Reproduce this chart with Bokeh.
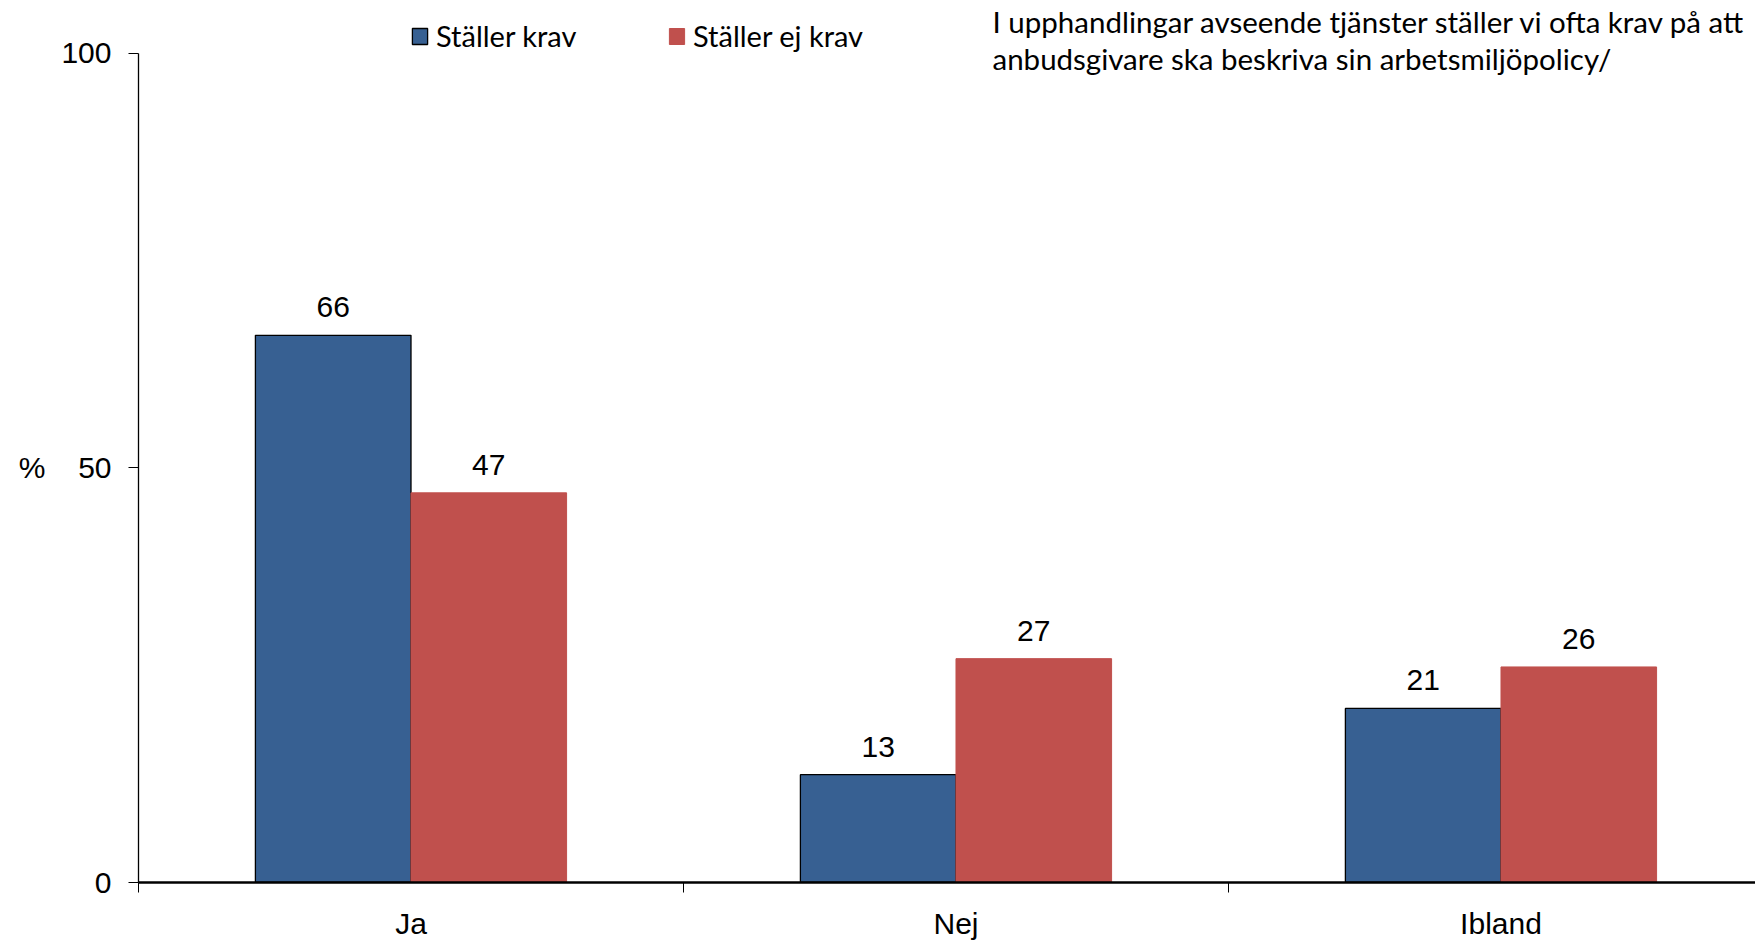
from bokeh.plotting import figure
from bokeh.models import (Range1d, FixedTicker, ColumnDataSource, LabelSet, Label, Legend,
                          LegendItem, LinearAxis)
from bokeh.core.properties import value
from bokeh.embed import file_html
from bokeh.resources import INLINE

categories = ["Ja", "Nej", "Ibland"]
series_names = ["Ställer krav", "Ställer ej krav"]
staller_krav = [66, 13, 21]
staller_ej_krav = [47, 27, 26]
y_ticks = [0, 50, 100]
title_lines = ["I upphandlingar avseende tjänster ställer vi ofta krav på att",
               "anbudsgivare ska beskriva sin arbetsmiljöpolicy/"]
y_label = "%"

BLUE = "#376092"
RED = "#C0504D"
NUM_FONT = "Liberation Sans"
TXT_FONT = "Lato"

BAR_W = 0.2855
centers = list(range(len(categories)))
x_blue = [c - BAR_W / 2 for c in centers]
x_red = [c + BAR_W / 2 for c in centers]

# frame spans from page top to x-axis; y axis line is bounded to 0..100
Y_TOP = 100 + 53 / 8.304
p = figure(width=1755, height=942, x_range=Range1d(-0.5, 2.467), y_range=Range1d(0, Y_TOP),
           output_backend="svg", toolbar_location=None,
           min_border_left=138, min_border_right=0, min_border_top=0, min_border_bottom=59)
p.outline_line_color = None
p.grid.visible = False
p.background_fill_color = "white"
p.border_fill_color = "white"

src_b = ColumnDataSource(dict(x=x_blue, top=staller_krav, lab=[str(v) for v in staller_krav]))
src_r = ColumnDataSource(dict(x=x_red, top=staller_ej_krav, lab=[str(v) for v in staller_ej_krav]))

rb = p.vbar(x="x", top="top", width=BAR_W, source=src_b, fill_color=BLUE, line_color="black", line_width=1.3)
rr = p.vbar(x="x", top="top", width=BAR_W, source=src_r, fill_color=RED, line_color=RED, line_width=1)

for src in (src_b, src_r):
    p.add_layout(LabelSet(x="x", y="top", text="lab", source=src, text_align="center",
                          text_baseline="alphabetic", y_offset=18,
                          text_font=value(NUM_FONT), text_font_size="30px", text_color="black"))

# x axis
xa = p.xaxis[0]
xa.ticker = FixedTicker(ticks=centers, minor_ticks=[c - 0.5 for c in centers] + [centers[-1] + 0.5])
xa.major_label_overrides = {c: n for c, n in zip(centers, categories)}
xa.major_tick_out = 0
xa.major_tick_in = 0
xa.major_tick_line_color = None
xa.minor_tick_out = 10
xa.minor_tick_in = 0
xa.minor_tick_line_color = "black"
xa.minor_tick_line_width = 1
xa.axis_line_color = "black"
xa.axis_line_width = 2.5
xa.major_label_text_font = NUM_FONT
xa.major_label_text_font_size = "30px"
xa.major_label_text_color = "black"
xa.major_label_standoff = 14

# y axis
ya = p.yaxis[0]
ya.ticker = FixedTicker(ticks=y_ticks, minor_ticks=[])
ya.bounds = (0, 100)
ya.major_tick_out = 10
ya.major_tick_in = 0
ya.major_tick_line_color = "black"
ya.axis_line_color = "black"
ya.axis_line_width = 1.3
ya.major_label_text_font = NUM_FONT
ya.major_label_text_font_size = "30px"
ya.major_label_text_color = "black"
ya.major_label_standoff = 17

# "%" unit label, set beside the 50 tick on an outer, line-less axis
ua = LinearAxis(ticker=FixedTicker(ticks=[y_ticks[1]], minor_ticks=[]),
                major_label_overrides={y_ticks[1]: y_label})
ua.axis_line_color = None
ua.major_tick_line_color = None
ua.major_tick_out = 0
ua.major_tick_in = 0
ua.minor_tick_line_color = None
ua.major_label_text_font = NUM_FONT
ua.major_label_text_font_size = "30px"
ua.major_label_text_color = "black"
ua.major_label_standoff = 13
p.add_layout(ua, "left")

# legends
for r, name, vx in ((rb, series_names[0], 272), (rr, series_names[1], 529)):
    lg = Legend(items=[LegendItem(label=name, renderers=[r])], location=(vx, 829),
                orientation="horizontal", border_line_color=None, background_fill_alpha=0,
                label_text_font=TXT_FONT, label_text_font_size="29px", label_text_color="black",
                glyph_width=19, glyph_height=20, label_standoff=7, padding=0, margin=0,
                label_height=20)
    p.add_layout(lg, "center")

# title text
for line, yy in zip(title_lines, (861, 824)):
    p.add_layout(Label(x=854, y=yy, x_units="screen", y_units="screen", text=line,
                       text_align="left", text_baseline="alphabetic",
                       text_font=TXT_FONT, text_font_size="29.5px", text_color="black"))

open("out.html", "w").write(file_html(p, INLINE))
